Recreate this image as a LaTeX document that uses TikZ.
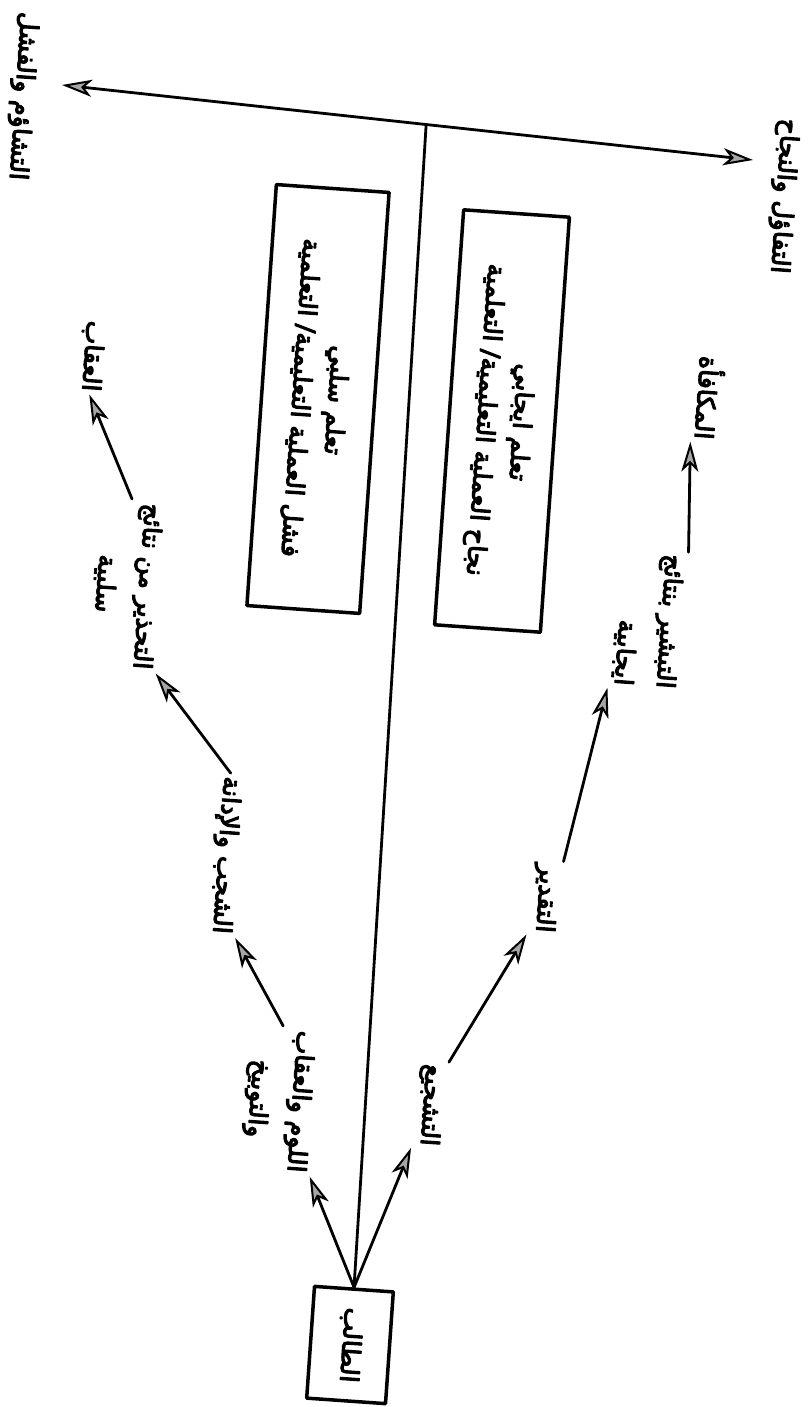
\documentclass[tikz,border=0pt]{standalone}
\usepackage{fontspec}
\newfontfamily\arabicfont[Script=Arabic,FakeBold=4.5]{DejaVu Sans}
\TeXXeTstate=1
\usetikzlibrary{arrows.meta,calc}
\newcommand{\artext}[1]{\beginR #1\endR}
\tikzset{
  lbl/.style={font=\arabicfont\fontsize{25}{42}\selectfont, rotate=-94, inner sep=2pt},
  kasten/.style={lbl, draw, line width=3.5pt, font=\arabicfont\fontsize{25}{36}\selectfont}
}
\begin{document}
\begin{tikzpicture}[x=1pt,y=-1pt, >={Stealth[length=30pt,width=17pt,inset=8pt,fill=gray!70,line width=2pt]}, line width=2.8pt, line join=round, line cap=round]
\useasboundingbox (0,0) rectangle (808,1407);
\path (62,85) coordinate (L) (753,160) coordinate (R) ($(L)!0.527!(R)$) coordinate (T);
\node[kasten, minimum width=112pt, minimum height=79pt] (stud) at (350,1345) {\artext{الطالب}};
\node[kasten, minimum width=422pt, minimum height=113pt, align=center] (neg) at (318,399) {\artext{تعلم سلبي}\\\artext{فشل العملية التعليمية/ التعلمية}};
\node[kasten, minimum width=416pt, minimum height=106pt, align=center] (pos) at (502,421) {\artext{تعلم ايجابي}\\\artext{نجاح العملية التعليمية/ التعلمية}};
\node[lbl] (fail) at (22,96) {\artext{التشاؤم والفشل}};
\node[lbl] (succ) at (783,196) {\artext{التفاؤل والنجاح}};
\node[lbl] (reward) at (710,398) {\artext{المكافأة}};
\node[lbl, align=right] (promise) at (648,620) {\artext{التبشير بنتائج}\\\artext{ايجابية}};
\node[lbl] (esteem) at (545,898) {\artext{التقدير}};
\node[lbl] (encour) at (430,1105) {\artext{التشجيع}};
\node[lbl, align=center] (blame) at (278,1100) {\artext{اللوم والعقاب}\\\artext{والتوبيخ}};
\node[lbl] (condemn) at (225,855) {\artext{الشجب والإدانة}};
\node[lbl, align=center] (warn) at (126,585) {\artext{التحذير من نتائج}\\\artext{سلبية}};
\node[lbl] (punish) at (92,356) {\artext{العقاب}};
\draw[<->] (L) -- (R);
\draw (stud.west) -- (T);
\draw[->] (stud.west) -- (blame.north east);
\draw[->] (stud.west) -- (encour.south east);
\draw[->] (encour.north west) -- (esteem.south east);
\draw[->] (esteem.north west) -- (promise.south east);
\draw[->] (promise.north west) -- (reward.south east);
\draw[->] (blame.west) -- (condemn.north east);
\draw[->] (condemn.west) -- (warn.north east);
\draw[->] (warn.west) -- (punish.east);
\end{tikzpicture}
\end{document}
